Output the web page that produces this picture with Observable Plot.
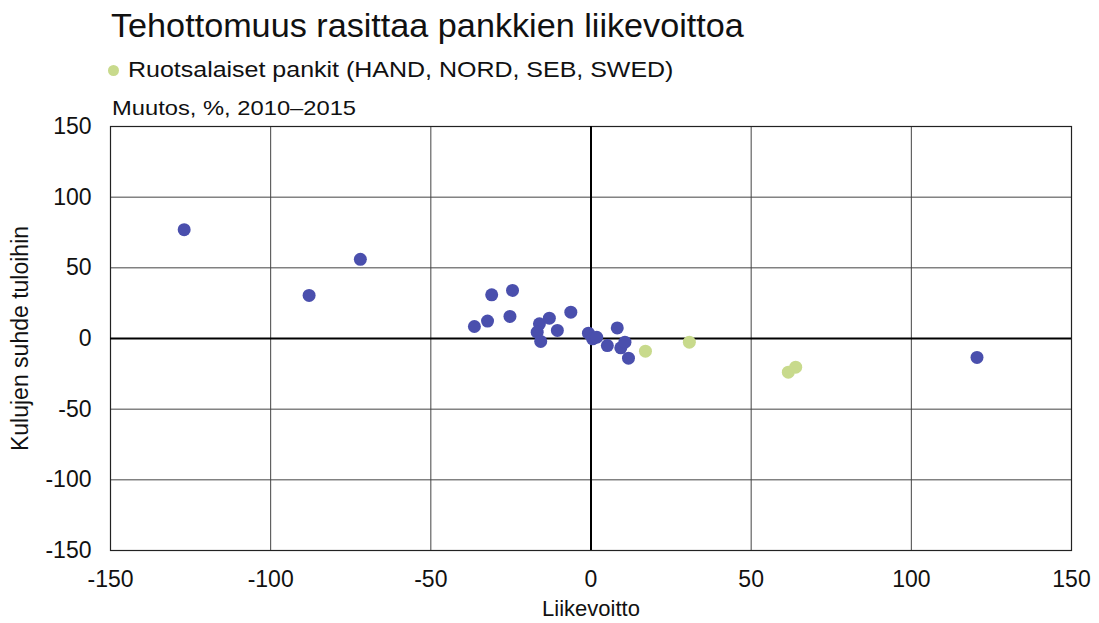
<!DOCTYPE html>
<html><head><meta charset="utf-8">
<script src="https://cdn.jsdelivr.net/npm/d3@7"></script>
<script src="https://cdn.jsdelivr.net/npm/@observablehq/plot@0.6"></script>
<style>
body{margin:0;background:#fff;font-family:"Liberation Sans",Arial,sans-serif;color:#111}
#head{position:relative;height:104px;width:1099px}
#head div{position:absolute;line-height:1;white-space:nowrap;transform-origin:left top}
#title{left:111px;top:9px;font-size:33px;transform:scaleX(1.036)}
#legend{left:128px;top:59px;font-size:22.5px;transform:scaleX(1.11)}
#dot{left:108px;top:65px;width:11px;height:11px;border-radius:50%;background:#c8da8c}
#sub{left:112px;top:97px;font-size:21px;transform:scaleX(1.13);z-index:2}
#chart{position:relative;z-index:1}
</style></head><body>
<div id="head">
<div id="title">Tehottomuus rasittaa pankkien liikevoittoa</div>
<div id="dot"></div>
<div id="legend">Ruotsalaiset pankit (HAND, NORD, SEB, SWED)</div>
<div id="sub">Muutos, %, 2010–2015</div>
</div>
<div id="chart"></div>
<script>
const otherX = [-127, -88, -72, -36.4, -32.3, -31, -24.5, -25.3, -16.1, -16.8, -15.7, -13, -10.5, -6.3, -0.8, 0.5, 1.8, 8.2, 5.1, 9.3, 10.6, 11.7, 120.5];
const otherY = [77, 30.5, 56, 8.5, 12.3, 30.9, 34, 15.6, 10.4, 4.5, -2.1, 14.4, 5.7, 18.6, 3.8, -0.2, 0.9, 7.5, -5, -6.6, -2.6, -13.9, -13.4];
const sweX = [17, 30.7, 61.6, 63.9];
const sweY = [-9, -2.6, -23.8, -20.3];
const xTicks = [-150, -100, -50, 0, 50, 100, 150];
const yTicks = [-150, -100, -50, 0, 50, 100, 150];

const other = otherX.map((x, i) => ({x, y: otherY[i]}));
const swe = sweX.map((x, i) => ({x, y: sweY[i]}));
const fmt = d => String(d);

const chart = Plot.plot({
  width: 1099, height: 519,
  marginLeft: 110, marginRight: 28, marginTop: 22, marginBottom: 73,
  style: {fontFamily: "'Liberation Sans', Arial, sans-serif", fontSize: "23px", color: "#111", background: "transparent"},
  x: {domain: [-150, 150], ticks: xTicks, label: null},
  y: {domain: [-150, 150], ticks: yTicks, label: null},
  marks: [
    Plot.gridX(xTicks, {stroke: "#444", strokeOpacity: 1, strokeWidth: 1}),
    Plot.gridY(yTicks, {stroke: "#444", strokeOpacity: 1, strokeWidth: 1}),
    Plot.frame({stroke: "#222", strokeWidth: 1.2}),
    Plot.ruleX([0], {stroke: "#000", strokeWidth: 2}),
    Plot.ruleY([0], {stroke: "#000", strokeWidth: 2}),
    Plot.axisX(xTicks, {tickSize: 0, tickPadding: 20, fontSize: 23, tickFormat: fmt, label: null}),
    Plot.axisY(yTicks, {tickSize: 0, tickPadding: 19, fontSize: 23, tickFormat: fmt, label: null}),
    Plot.dot(other, {x: "x", y: "y", r: 6.5, fill: "#4a4fad", stroke: "none"}),
    Plot.dot(swe, {x: "x", y: "y", r: 6.5, fill: "#c8da8c", stroke: "none"}),
    Plot.text(["Liikevoitto"], {frameAnchor: "bottom", dy: 65, fontSize: 22, fill: "#111"}),
    Plot.text(["Kulujen suhde tuloihin"], {frameAnchor: "left", dx: -90, rotate: -90, textAnchor: "middle", fontSize: 23, fill: "#111"})
  ]
});
document.getElementById("chart").appendChild(chart);
</script>
</body></html>
